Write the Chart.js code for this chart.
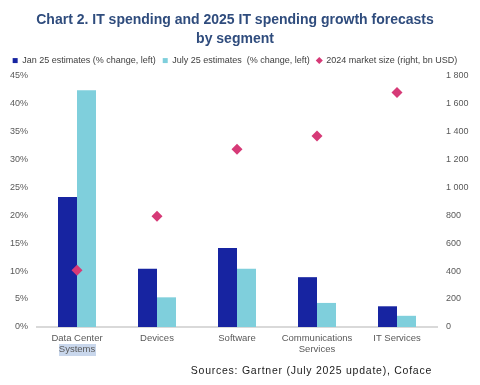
<!DOCTYPE html>
<html>
<head>
<meta charset="utf-8">
<script src="https://cdn.jsdelivr.net/npm/chart.js@4"></script>
<style>
  html, body { margin: 0; padding: 0; background: #fff; }
  #wrap { width: 480px; height: 385px; }
</style>
</head>
<body>
<div id="wrap"><canvas id="chart" width="480" height="385"></canvas></div>
<script>
"use strict";

// Data
const segments = [['Data Center', 'Systems'], 'Devices', 'Software', ['Communications', 'Services'], 'IT Services'];
const jan25 = [23.2, 10.4, 14.1, 8.9, 3.7];
const july25 = [42.3, 5.3, 10.4, 4.3, 2.0];
const marketSize = [405, 792, 1270, 1365, 1675];

const leftTicks = [0, 5, 10, 15, 20, 25, 30, 35, 40, 45];
const rightTicks = [0, 200, 400, 600, 800, 1000, 1200, 1400, 1600, 1800];

const font = "'Liberation Sans', Arial, sans-serif";

// Source line and the highlight behind "Systems"
const extras = {
    id: 'extras',
    beforeDraw(chart) {
        const ctx = chart.ctx;
        const x = chart.scales.x.getPixelForValue(0);
        ctx.save();
        ctx.fillStyle = '#c9d7ec';
        ctx.fillRect(x - 18, 344, 37, 12);
        ctx.restore();
    },
    afterDraw(chart) {
        const ctx = chart.ctx;
        ctx.save();
        ctx.font = '10.5px ' + font;
        ctx.fillStyle = '#1a1a1a';
        ctx.textAlign = 'right';
        ctx.textBaseline = 'middle';
        ctx.letterSpacing = '0.75px';
        ctx.fillText('Sources: Gartner (July 2025 update), Coface', 432, 371);
        ctx.restore();
    }
};

const ctx = document.getElementById('chart');

new Chart(ctx, {
    type: 'bar',
    data: {
        labels: segments,
        datasets: [{
            label: 'Jan 25 estimates (% change, left)',
            data: jan25,
            backgroundColor: '#1724a1',
            yAxisID: 'y',
            order: 1,
            pointStyle: 'rect'
        }, {
            label: 'July 25 estimates  (% change, left)',
            data: july25,
            backgroundColor: '#7fcfdc',
            yAxisID: 'y',
            order: 1,
            pointStyle: 'rect'
        }, {
            type: 'line',
            label: '2024 market size (right, bn USD)',
            data: marketSize,
            yAxisID: 'y1',
            showLine: false,
            pointStyle: 'rectRot',
            pointRadius: 5.5,
            pointHoverRadius: 5.5,
            backgroundColor: '#d63a77',
            borderColor: '#d63a77',
            borderWidth: 0,
            order: 0
        }]
    },
    options: {
        responsive: false,
        animation: false,
        layout: { padding: { left: 0, right: 10, top: 0, bottom: 24 } },
        datasets: {
            bar: { barPercentage: 1, categoryPercentage: 0.475 }
        },
        plugins: {
            tooltip: { enabled: false },
            title: {
                display: true,
                text: ['Chart 2. IT spending and 2025 IT spending growth forecasts', 'by segment'],
                color: '#2f4c7d',
                font: { family: font, size: 14, weight: 'bold', lineHeight: 1.36 },
                padding: { top: 11, bottom: 0 }
            },
            legend: {
                labels: {
                    sort: (a, b) => a.datasetIndex - b.datasetIndex,
                    usePointStyle: true,
                    boxWidth: 5,
                    boxHeight: 5,
                    padding: 7,
                    color: '#404040',
                    font: { family: font, size: 9 }
                }
            }
        },
        scales: {
            x: {
                grid: { display: false, drawTicks: false },
                border: { display: true, color: '#d9d9d9', width: 2 },
                ticks: {
                    color: '#595959',
                    font: { family: font, size: 9.5, lineHeight: 1.15 },
                    padding: 6,
                    maxRotation: 0,
                    autoSkip: false
                },
                afterFit(scale) { scale.height = 34; }
            },
            y: {
                position: 'left',
                min: 0,
                max: 45,
                grid: { display: false, drawTicks: false },
                border: { display: false },
                afterBuildTicks(scale) { scale.ticks = leftTicks.map(v => ({ value: v })); },
                ticks: {
                    color: '#595959',
                    font: { family: font, size: 9 },
                    padding: 9,
                    callback: v => v + '%'
                },
                afterFit(scale) { scale.width = 37; }
            },
            y1: {
                position: 'right',
                min: 0,
                max: 1800,
                grid: { display: false, drawTicks: false },
                border: { display: false },
                afterBuildTicks(scale) { scale.ticks = rightTicks.map(v => ({ value: v })); },
                ticks: {
                    color: '#595959',
                    font: { family: font, size: 9 },
                    padding: 9,
                    callback: v => String(v).replace(/\B(?=(\d{3})+(?!\d))/g, ' ')
                },
                afterFit(scale) { scale.width = 33; }
            }
        }
    },
    plugins: [extras]
});
</script>
</body>
</html>
